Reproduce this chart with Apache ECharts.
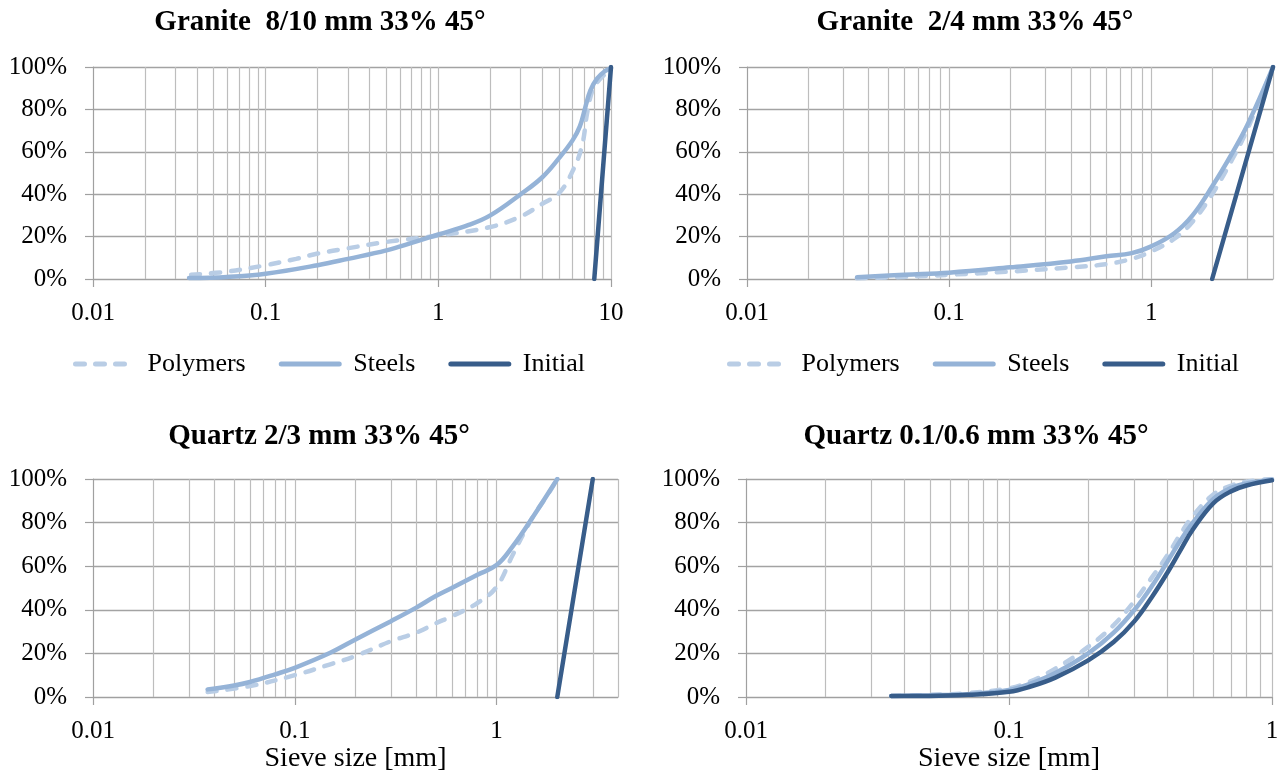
<!DOCTYPE html>
<html><head><meta charset="utf-8">
<script src="https://cdn.jsdelivr.net/npm/echarts@6/dist/echarts.min.js"></script>
<style>html,body{margin:0;padding:0;background:#fff}#chart{width:1283px;height:784px}</style>
</head><body><div id="chart"></div>
<script>
// ---------- DATA ----------
const titles = ['Granite  8/10 mm 33% 45°', 'Granite  2/4 mm 33% 45°', 'Quartz 2/3 mm 33% 45°', 'Quartz 0.1/0.6 mm 33% 45°'];
const seriesNames = ['Polymers', 'Steels', 'Initial'];
const xAxisName = 'Sieve size [mm]';
const xMaxes = [10, 4, 4, 1];

// Granite 8/10 mm  [sieve size mm, passing %]
const g810Polymers = [[0.037,2],[0.06,3.5],[0.1,6.5],[0.15,9.5],[0.2,12],[0.3,14.5],[0.5,17.5],[1,20.5],[2,24.5],[3,29.5],[4,35.5],[5,40.5],[6,51],[6.8,63],[7.3,79],[7.9,90],[8.7,94.6],[9.6,97.6]];
const g810Steels   = [[0.036,0.5],[0.06,1],[0.1,2.5],[0.2,6.5],[0.3,9.5],[0.5,13.5],[0.7,17],[1,21],[1.5,25.5],[2,30],[3,40],[4,48],[5,57],[6,65.5],[6.6,72],[7.1,81],[7.6,89],[8.3,94.5],[9.2,98],[10,99.5]];
const g810Initial  = [[8,0],[10,100]];

// Granite 2/4 mm
const g24Polymers = [[0.035,0.3],[0.06,1],[0.1,2],[0.2,3.5],[0.4,5.5],[0.6,7],[0.8,9.5],[1,13],[1.3,19],[1.6,27],[2,40],[2.5,56],[3,71],[4,100]];
const g24Steels   = [[0.035,0.8],[0.06,2],[0.1,3],[0.2,5.5],[0.4,8.3],[0.6,10.7],[0.8,12.2],[1,15.4],[1.3,21.6],[1.6,30],[2,43.6],[2.5,59],[3,73],[4,100]];
const g24Initial  = [[2,0],[4,100]];

// Quartz 2/3 mm
const q23Polymers = [[0.037,2.3],[0.06,5],[0.1,10],[0.15,15],[0.2,18.8],[0.3,25.6],[0.4,29.5],[0.5,33.8],[0.6,37],[0.8,43],[1,50.5],[1.2,65],[1.5,82],[1.8,93],[2,100]];
const q23Steels   = [[0.037,3.5],[0.05,5.3],[0.06,6.9],[0.08,10.4],[0.1,13.4],[0.15,20.3],[0.2,26.4],[0.3,34.8],[0.4,41],[0.5,46.3],[0.6,50],[0.8,56],[1,60.5],[1.2,69],[1.5,82],[2,100]];
const q23Initial  = [[2,0],[3,100]];

// Quartz 0.1/0.6 mm
const q0106Polymers = [[0.0357,0.5],[0.05,1],[0.07,1.8],[0.1,4],[0.12,7],[0.15,13],[0.2,23],[0.25,33],[0.3,44],[0.35,55],[0.4,65],[0.45,75],[0.5,83],[0.6,93],[0.7,97],[0.8,98.8],[1,100]];
const q0106Steels   = [[0.0357,0.5],[0.05,0.8],[0.07,1.3],[0.1,3.2],[0.12,6],[0.15,11],[0.2,20],[0.25,29.5],[0.3,40],[0.35,51],[0.4,62],[0.45,72],[0.5,80],[0.6,91],[0.7,96],[0.8,98],[1,99.7]];
const q0106Initial  = [[0.0357,0.5],[0.05,0.5],[0.07,1],[0.1,2.4],[0.12,4.7],[0.15,8.9],[0.2,16.8],[0.25,25.2],[0.3,34.8],[0.35,46],[0.4,57],[0.45,67.6],[0.5,76.8],[0.6,89],[0.7,94.4],[0.8,97],[1,99.4]];

const panelData = [
  [g810Polymers, g810Steels, g810Initial],
  [g24Polymers, g24Steels, g24Initial],
  [q23Polymers, q23Steels, q23Initial],
  [q0106Polymers, q0106Steels, q0106Initial]
];

// ---------- LAYOUT / STYLE ----------
const FONT = "'Liberation Serif','Times New Roman',serif";
const COLORS = ['#b9cde5', '#95b3d7', '#385d8a'];
const layout = [
  {grid:{left:93, top:67, width:518, height:212}, titleX:320, titleTop:8, legendLeft:73, name:''},
  {grid:{left:747, top:67, width:526, height:212}, titleX:975, titleTop:8, legendLeft:727, name:''},
  {grid:{left:93, top:479, width:525, height:218}, titleX:319, titleTop:422, legendLeft:null, name:xAxisName},
  {grid:{left:746, top:479, width:526, height:218}, titleX:976, titleTop:422, legendLeft:null, name:xAxisName}
];

function logGridValues(min, max) {
  const out = [];
  for (let d = min; d < max * 1.0001; d *= 10) {
    for (let k = 1; k <= 9; k++) {
      const v = +(k * d).toPrecision(3);
      if (v > min * 1.0001 && v <= max * 1.0001) out.push(v);
    }
  }
  return out;
}

const option = {
  animation: false,
  backgroundColor: '#fff',
  title: [], legend: [], grid: [], xAxis: [], yAxis: [], series: []
};

layout.forEach((p, i) => {
  option.grid.push(Object.assign({containLabel:false}, p.grid));
  option.title.push({
    text: titles[i], left: p.titleX, top: p.titleTop, textAlign: 'center', padding: 0,
    textStyle: {fontFamily: FONT, fontSize: 29, fontWeight: 'bold', color: '#000'}
  });
  if (p.legendLeft !== null) {
    option.legend.push({
      left: p.legendLeft, top: 351, padding: 0, itemGap: 33, itemWidth: 58, itemHeight: 14,
      data: seriesNames,
      textStyle: {fontFamily: FONT, fontSize: 26, color: '#000', padding: [0,0,0,9]},
      lineStyle: {width: 5},
      itemStyle: {color: 'rgba(0,0,0,0)', borderColor: 'rgba(0,0,0,0)', borderWidth: 0, opacity: 0}
    });
  }
  option.xAxis.push({
    type: 'log', logBase: 10, gridIndex: i, min: 0.01, max: xMaxes[i],
    axisLine: {show: true, onZero: false, lineStyle: {color: '#a0a0a0', width: 1.2}},
    axisTick: {show: true, length: 8, lineStyle: {color: '#a0a0a0', width: 1.2}},
    splitLine: {show: false},
    axisLabel: {fontFamily: FONT, fontSize: 25, color: '#000', margin: 22,
      showMaxLabel: (xMaxes[i] === 10 || xMaxes[i] === 1),
      formatter: v => String(+(+v).toPrecision(3))},
    name: p.name, nameLocation: 'middle', nameGap: 46,
    nameTextStyle: {fontFamily: FONT, fontSize: 28, color: '#000'}
  });
  option.yAxis.push({
    type: 'value', gridIndex: i, min: 0, max: 100, interval: 20,
    axisLine: {show: true, lineStyle: {color: '#a0a0a0', width: 1.2}},
    axisTick: {show: true, length: 8, lineStyle: {color: '#a0a0a0', width: 1.2}},
    splitLine: {show: true, lineStyle: {color: '#a3a3a3', width: 1.3}},
    axisLabel: {fontFamily: FONT, fontSize: 25, color: '#000', margin: 26, formatter: '{value}%'}
  });
  // vertical log grid lines (major + minor) through the axis scale
  option.series.push({
    type: 'line', name: 'vgrid' + i, xAxisIndex: i, yAxisIndex: i, data: [], silent: true, z: 1,
    markLine: {
      silent: true, symbol: ['none', 'none'], z: 1, animation: false,
      label: {show: false}, emphasis: {disabled: true},
      lineStyle: {color: '#bdbdbd', width: 1.2, type: 'solid'},
      data: logGridValues(0.01, xMaxes[i]).map(v => ({xAxis: v}))
    }
  });
  panelData[i].forEach((d, s) => {
    option.series.push({
      type: 'line', name: seriesNames[s], xAxisIndex: i, yAxisIndex: i,
      data: d, symbol: 'none', smooth: 0.4, z: 3 + s,
      itemStyle: {color: COLORS[s]},
      lineStyle: {color: COLORS[s], width: 4.5, type: s === 0 ? [9, 11] : 'solid', cap: 'round'},
      emphasis: {disabled: true}
    });
  });
});

const chart = echarts.init(document.getElementById('chart'), null, {renderer: 'canvas'});
chart.setOption(option);
</script></body></html>
